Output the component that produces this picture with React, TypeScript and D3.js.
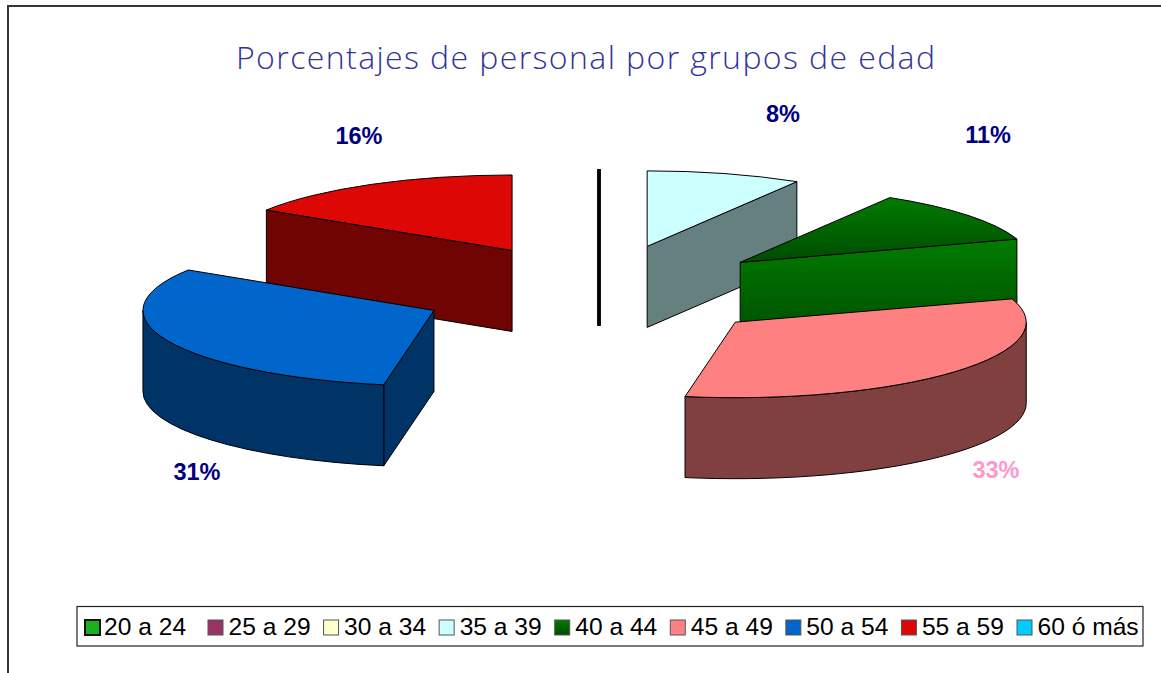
import React, { useEffect, useRef } from 'react';
import * as d3 from 'd3';

const groups = ['20 a 24', '25 a 29', '30 a 34', '35 a 39', '40 a 44', '45 a 49', '50 a 54', '55 a 59', '60 ó más'];
const percents = [0, 0, 0, 8.6, 11.4, 32.76, 31.24, 16.0, 0];
const percentLabels = ['', '', '', '8%', '11%', '33%', '31%', '16%', ''];
const colors = ['#1cb01c', '#993366', '#ffffcc', '#ccffff', '#007800', '#ff8080', '#0066cc', '#dd0806', '#00ccff'];
const titleText = 'Porcentajes de personal por grupos de edad';

// where Excel put each label, by group
const labelSpots: Record<string, [number, number, string]> = {
  '35 a 39': [783, 122, '#000080'],
  '40 a 44': [988, 143, '#000080'],
  '45 a 49': [996, 478, '#ff99cc'],
  '50 a 54': [197, 480, '#000080'],
  '55 a 59': [359, 144, '#000080'],
};

const cx = 599;
const cy = 291.5;
const rx = 291;
const ry = 75.5;
const depth = 81;
const explode = 0.62;

const App = () => {
  const svgRef = useRef<SVGSVGElement>(null);

  useEffect(() => {
    const svg = d3.select(svgRef.current);
    svg.selectAll('*').remove(); // Clear existing content

    const defs = svg.append('defs');
    const grad = defs.append('linearGradient').attr('id', 'greenFade').attr('x1', 0).attr('y1', 0).attr('x2', 0).attr('y2', 1);
    grad.append('stop').attr('offset', '0%').attr('stop-color', '#007c00');
    grad.append('stop').attr('offset', '100%').attr('stop-color', '#004c00');

    // frame
    svg.append('path').attr('d', 'M8,673V6H1161').attr('fill', 'none').attr('stroke', '#333').attr('stroke-width', 2);

    svg
      .append('text')
      .attr('x', 236)
      .attr('y', 69)
      .attr('textLength', 699)
      .attr('lengthAdjust', 'spacing')
      .style('font-family', '"Open Sans", Lato, sans-serif')
      .style('font-weight', 300)
      .style('font-size', '32px')
      .style('fill', '#333399')
      .text(titleText);

    const color = d3.scaleOrdinal<string, string>().domain(groups).range(colors);
    const pie = d3
      .pie<string>()
      .sort(null)
      .value((d) => percents[groups.indexOf(d)]);

    const arcs = pie(groups).map((a) => {
      const mid = (a.startAngle + a.endAngle) / 2;
      return {
        group: a.data,
        start: a.startAngle,
        end: a.endAngle,
        ax: cx + explode * rx * Math.sin(mid),
        ay: cy - explode * ry * Math.cos(mid),
      };
    });

    // back slices first
    const ordered = d3.sort(arcs, (a) => a.ay);
    const chart = svg.append('g').attr('stroke', '#000').attr('stroke-width', 1).attr('stroke-linejoin', 'round');

    ordered.forEach((s) => {
      const fill = color(s.group);
      const green = s.group === '40 a 44';
      const faceFill = green ? 'url(#greenFade)' : fill;
      const base = d3.rgb(fill);
      const shade = green ? faceFill : d3.rgb(base.r / 2, base.g / 2, base.b / 2).toString();
      const px = (t: number) => s.ax + rx * Math.sin(t);
      const py = (t: number) => s.ay - ry * Math.cos(t);

      // zero share: the empty slices collapse to a thick upright line
      if (s.end - s.start === 0) {
        chart
          .append('path')
          .attr('d', `M${px(s.start)},${py(s.start)}V${s.ay + depth}`)
          .attr('stroke-width', 3)
          .attr('fill', 'none');
        return;
      }

      const wall = (t: number) =>
        `M${s.ax},${s.ay}L${px(t)},${py(t)}V${py(t) + depth}L${s.ax},${s.ay + depth}Z`;

      if (Math.sin(s.start) < 0) chart.append('path').attr('d', wall(s.start)).attr('fill', shade);
      if (Math.sin(s.end) > 0.001) chart.append('path').attr('d', wall(s.end)).attr('fill', shade);

      // outer rim, only the part that faces the viewer
      const t0 = Math.max(s.start, Math.PI / 2);
      const t1 = Math.min(s.end, (3 * Math.PI) / 2);
      if (t1 > t0) {
        chart
          .append('path')
          .attr(
            'd',
            `M${px(t0)},${py(t0)}A${rx},${ry} 0 0 1 ${px(t1)},${py(t1)}V${py(t1) + depth}A${rx},${ry} 0 0 0 ${px(t0)},${py(t0) + depth}Z`
          )
          .attr('fill', shade);
      }

      const large = s.end - s.start > Math.PI ? 1 : 0;
      chart
        .append('path')
        .attr('d', `M${s.ax},${s.ay}L${px(s.start)},${py(s.start)}A${rx},${ry} 0 ${large} 1 ${px(s.end)},${py(s.end)}Z`)
        .attr('fill', faceFill);
    });

    // percent labels
    arcs
      .filter((s) => s.end > s.start)
      .forEach((s) => {
        const [x, y, c] = labelSpots[s.group];
        svg
          .append('text')
          .attr('x', x)
          .attr('y', y)
          .attr('text-anchor', 'middle')
          .style('font-family', '"Liberation Sans", sans-serif')
          .style('font-weight', 700)
          .style('font-size', '23.5px')
          .style('fill', c)
          .text(percentLabels[groups.indexOf(s.group)]);
      });

    // legend
    const legend = svg.append('g');
    legend
      .append('rect')
      .attr('x', 77)
      .attr('y', 606.5)
      .attr('width', 1066)
      .attr('height', 39.5)
      .attr('fill', '#fff')
      .attr('stroke', '#222')
      .attr('stroke-width', 1.2);

    const legendX = d3.scaleLinear().domain([1, 8]).range([208, 1017]);
    groups.forEach((g, i) => {
      const x = i === 0 ? 85 : legendX(i);
      legend
        .append('rect')
        .attr('x', x)
        .attr('y', 620)
        .attr('width', 15)
        .attr('height', 15)
        .attr('fill', g === '40 a 44' ? 'url(#greenFade)' : color(g))
        .attr('stroke', i === 0 ? '#111' : '#555')
        .attr('stroke-width', i === 0 ? 2 : 1);
      legend
        .append('text')
        .attr('x', i === 0 ? 104 : x + 20.5)
        .attr('y', 635)
        .style('font-family', '"Liberation Sans", sans-serif')
        .style('font-size', '24.6px')
        .style('fill', '#000')
        .text(g);
    });
  }, []);

  return (
    <svg
      ref={svgRef}
      width={1161}
      height={673}
      style={{ position: 'absolute', left: 0, top: 0, background: '#fff' }}
    />
  );
};

export default App;
